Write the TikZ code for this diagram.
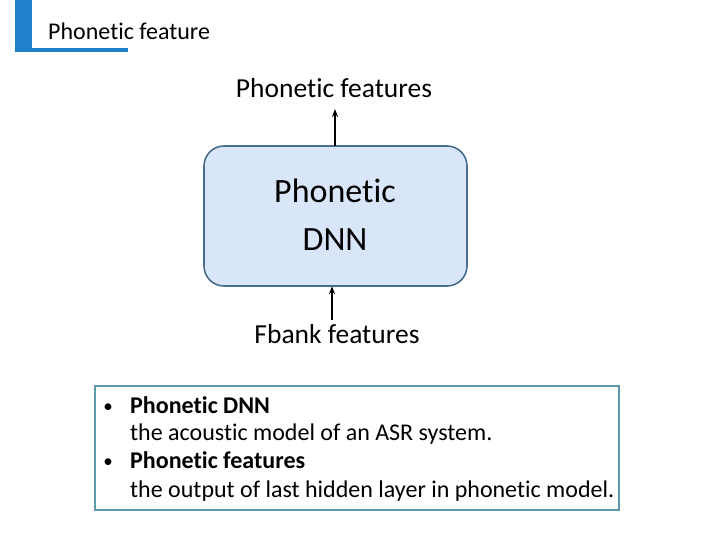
\documentclass[tikz,border=0pt]{standalone}
\usepackage{fontspec}
\setmainfont[Ligatures={NoCommon,NoRequired,NoContextual}]{Carlito}
\usetikzlibrary{arrows.meta}
\definecolor{barblue}{HTML}{1F80CC}
\definecolor{boxfill}{HTML}{D9E5F8}
\definecolor{boxline}{HTML}{4A6E92}
\definecolor{noteline}{HTML}{5A9AAA}
\tikzset{
  lbl/.style={inner sep=0pt, anchor=base},
  arr/.style={line width=1.8pt, -{Stealth[length=8pt,width=6pt]}},
  dnnbox/.style={draw=boxline, line width=1.6pt, fill=boxfill, rounded corners=20pt},
  txt/.style={inner sep=0pt, anchor=base west, font=\fontsize{24}{28}\selectfont},
  bul/.style={inner sep=0pt, anchor=base, font=\fontsize{19}{28}\selectfont},
}
\begin{document}
\begin{tikzpicture}[x=1pt,y=-1pt]
\useasboundingbox (0,0) rectangle (720,540);
% title decoration
\fill[barblue] (15,0) rectangle (32,52);
\fill[barblue] (15,48.5) rectangle (128,52);
\node[txt, font=\fontsize{24}{28}\selectfont] (title) at (48,40) {Phonetic feature};
% DNN box
\draw[dnnbox] (204,146) rectangle (467,286);
\node[inner sep=0pt, minimum width=263pt, minimum height=140pt] (dnn) at (335.5,216) {};
\node[lbl, font=\fontsize{34}{40}\selectfont] (l1) at (335,203) {Phonetic};
\node[lbl, font=\fontsize{34}{40}\selectfont] (l2) at (335,250) {DNN};
% labels
\node[lbl, font=\fontsize{27.5}{32}\selectfont] (outlbl) at (334,98) {Phonetic features};
\node[lbl, font=\fontsize{27.5}{32}\selectfont] (inlbl) at (337,343) {Fbank features};
\coordinate (outtip) at (335,109);
\coordinate (inbase) at (332,320);
\draw[arr] (outtip |- dnn.north) -- (outtip);
\draw[arr] (inbase) -- (inbase |- dnn.south);
% note box
\draw[draw=noteline, line width=1.1pt] (95,386) rectangle (619,510);
\node[bul] (b1) at (108,412) {•};
\node[txt, font=\fontsize{24}{28}\selectfont\bfseries] (t1) at (130,413) {Phonetic DNN};
\node[txt] (t2) at (130,440) {the acoustic model of an ASR system.};
\node[bul] (b2) at (108,467) {•};
\node[txt, font=\fontsize{24}{28}\selectfont\bfseries] (t3) at (130,468) {Phonetic features};
\node[txt] (t4) at (130,497) {the output of last hidden layer in phonetic model.};
\end{tikzpicture}
\end{document}
